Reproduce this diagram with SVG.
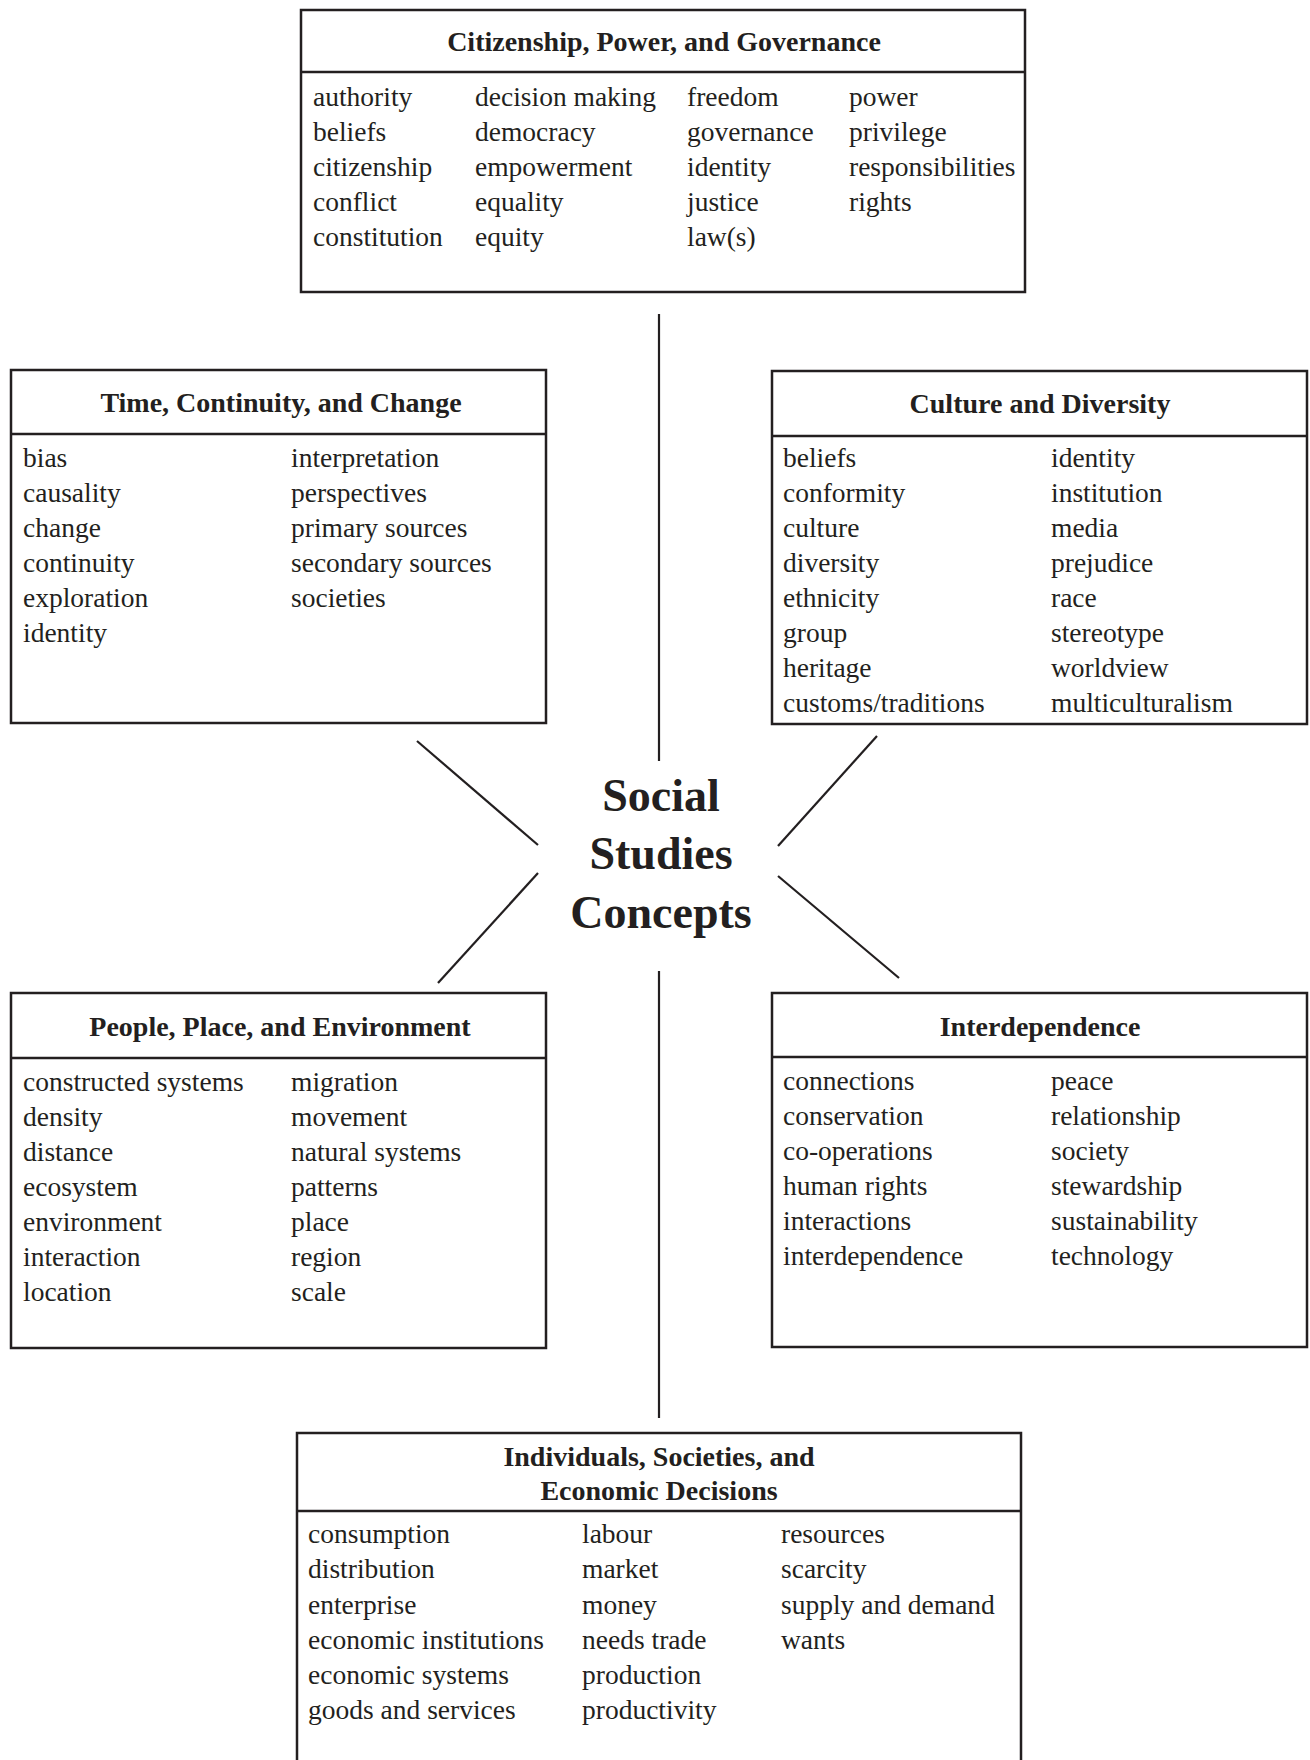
<svg xmlns="http://www.w3.org/2000/svg" width="1310" height="1760" viewBox="0 0 1310 1760">
<style>
.box{fill:none;stroke:#231f20;stroke-width:2.5}
.sep{stroke:#231f20;stroke-width:2.5}
.conn line{stroke:#231f20;stroke-width:2.2}
text{font-family:"Liberation Serif","Times New Roman",serif;fill:#231f20}
.h{font-size:28px;font-weight:bold;text-anchor:middle}
.t{font-size:27.5px}
.c{font-size:46px;font-weight:bold;text-anchor:middle}
</style>
<rect width="1310" height="1760" fill="#fff"/>
<g id="connectors" class="conn">
<line x1="659" y1="314" x2="659" y2="761"/>
<line x1="417" y1="741" x2="538" y2="845"/>
<line x1="538" y1="873" x2="438" y2="983"/>
<line x1="877" y1="736" x2="778" y2="846"/>
<line x1="778" y1="876" x2="899" y2="978"/>
<line x1="659" y1="971" x2="659" y2="1418"/>
</g>
<g id="center">
<text class="c" x="661" y="811">Social</text>
<text class="c" x="661" y="869">Studies</text>
<text class="c" x="661" y="928">Concepts</text>
</g>
<g id="citizenship">
<rect class="box" x="301" y="10" width="724" height="282"/>
<line class="sep" x1="301" y1="72" x2="1025" y2="72"/>
<text class="h" x="664" y="51">Citizenship, Power, and Governance</text>
<g class="t">
<text x="313" y="106">authority</text><text x="313" y="141">beliefs</text><text x="313" y="176">citizenship</text><text x="313" y="211">conflict</text><text x="313" y="246">constitution</text>
<text x="475" y="106">decision making</text><text x="475" y="141">democracy</text><text x="475" y="176">empowerment</text><text x="475" y="211">equality</text><text x="475" y="246">equity</text>
<text x="687" y="106">freedom</text><text x="687" y="141">governance</text><text x="687" y="176">identity</text><text x="687" y="211">justice</text><text x="687" y="246">law(s)</text>
<text x="849" y="106">power</text><text x="849" y="141">privilege</text><text x="849" y="176">responsibilities</text><text x="849" y="211">rights</text>
</g>
</g>
<g id="time">
<rect class="box" x="11" y="370" width="535" height="353"/>
<line class="sep" x1="11" y1="434" x2="546" y2="434"/>
<text class="h" x="281" y="412">Time, Continuity, and Change</text>
<g class="t">
<text x="23" y="467">bias</text><text x="23" y="502">causality</text><text x="23" y="537">change</text><text x="23" y="572">continuity</text><text x="23" y="607">exploration</text><text x="23" y="642">identity</text>
<text x="291" y="467">interpretation</text><text x="291" y="502">perspectives</text><text x="291" y="537">primary sources</text><text x="291" y="572">secondary sources</text><text x="291" y="607">societies</text>
</g>
</g>
<g id="culture">
<rect class="box" x="772" y="371" width="535" height="353"/>
<line class="sep" x1="772" y1="436" x2="1307" y2="436"/>
<text class="h" x="1040" y="413">Culture and Diversity</text>
<g class="t">
<text x="783" y="467">beliefs</text><text x="783" y="502">conformity</text><text x="783" y="537">culture</text><text x="783" y="572">diversity</text><text x="783" y="607">ethnicity</text><text x="783" y="642">group</text><text x="783" y="677">heritage</text><text x="783" y="712">customs/traditions</text>
<text x="1051" y="467">identity</text><text x="1051" y="502">institution</text><text x="1051" y="537">media</text><text x="1051" y="572">prejudice</text><text x="1051" y="607">race</text><text x="1051" y="642">stereotype</text><text x="1051" y="677">worldview</text><text x="1051" y="712">multiculturalism</text>
</g>
</g>
<g id="people">
<rect class="box" x="11" y="993" width="535" height="355"/>
<line class="sep" x1="11" y1="1058" x2="546" y2="1058"/>
<text class="h" x="280" y="1036">People, Place, and Environment</text>
<g class="t">
<text x="23" y="1091">constructed systems</text><text x="23" y="1126">density</text><text x="23" y="1161">distance</text><text x="23" y="1196">ecosystem</text><text x="23" y="1231">environment</text><text x="23" y="1266">interaction</text><text x="23" y="1301">location</text>
<text x="291" y="1091">migration</text><text x="291" y="1126">movement</text><text x="291" y="1161">natural systems</text><text x="291" y="1196">patterns</text><text x="291" y="1231">place</text><text x="291" y="1266">region</text><text x="291" y="1301">scale</text>
</g>
</g>
<g id="interdependence">
<rect class="box" x="772" y="993" width="535" height="354"/>
<line class="sep" x1="772" y1="1057" x2="1307" y2="1057"/>
<text class="h" x="1040" y="1036">Interdependence</text>
<g class="t">
<text x="783" y="1090">connections</text><text x="783" y="1125">conservation</text><text x="783" y="1160">co-operations</text><text x="783" y="1195">human rights</text><text x="783" y="1230">interactions</text><text x="783" y="1265">interdependence</text>
<text x="1051" y="1090">peace</text><text x="1051" y="1125">relationship</text><text x="1051" y="1160">society</text><text x="1051" y="1195">stewardship</text><text x="1051" y="1230">sustainability</text><text x="1051" y="1265">technology</text>
</g>
</g>
<g id="economics">
<path class="box" d="M297,1765 V1433 H1021 V1765"/>
<line class="sep" x1="297" y1="1511" x2="1021" y2="1511"/>
<text class="h" x="659" y="1466">Individuals, Societies, and</text>
<text class="h" x="659" y="1500">Economic Decisions</text>
<g class="t">
<text x="308" y="1543">consumption</text><text x="308" y="1578">distribution</text><text x="308" y="1614">enterprise</text><text x="308" y="1649">economic institutions</text><text x="308" y="1684">economic systems</text><text x="308" y="1719">goods and services</text>
<text x="582" y="1543">labour</text><text x="582" y="1578">market</text><text x="582" y="1614">money</text><text x="582" y="1649">needs trade</text><text x="582" y="1684">production</text><text x="582" y="1719">productivity</text>
<text x="781" y="1543">resources</text><text x="781" y="1578">scarcity</text><text x="781" y="1614">supply and demand</text><text x="781" y="1649">wants</text>
</g>
</g>
</svg>
